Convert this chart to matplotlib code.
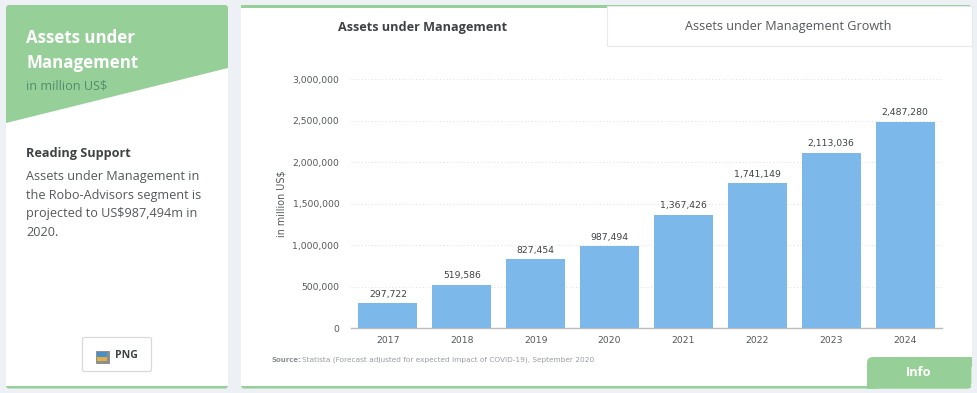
import matplotlib
matplotlib.use("Agg")
import matplotlib.pyplot as plt
from matplotlib.patches import FancyBboxPatch, Polygon, Rectangle
from matplotlib.ticker import FuncFormatter

years = ["2017", "2018", "2019", "2020", "2021", "2022", "2023", "2024"]
assets = [297722, 519586, 827454, 987494, 1367426, 1741149, 2113036, 2487280]
y_ticks = [0, 500000, 1000000, 1500000, 2000000, 2500000, 3000000]
tab_active = "Assets under Management"
tab_other = "Assets under Management Growth"
panel_title = ["Assets under", "Management"]
panel_unit = "in million US$"
support_head = "Reading Support"
support_lines = ["Assets under Management in", "the Robo-Advisors segment is",
                 "projected to US$987,494m in", "2020."]
source_head = "Source:"
source_text = "Statista (Forecast adjusted for expected impact of COVID-19), September 2020"

W, H = 977, 393
GREEN = "#97cf98"
BLUE = "#7cb9ea"
DARK = "#3f4245"
TXT = "#55585b"
fig = plt.figure(figsize=(W / 100, H / 100), dpi=100, facecolor="#edf0f5")
bg = fig.add_axes([0, 0, 1, 1])
bg.set_xlim(0, W)
bg.set_ylim(H, 0)
bg.axis("off")


def card(x0, y0, x1, y1):
    bg.add_patch(FancyBboxPatch((x0, y0), x1 - x0, y1 - y0, boxstyle="round,pad=0,rounding_size=3",
                                fc=GREEN, ec="none", zorder=1))
    bg.add_patch(Rectangle((x0, y0 + 3), x1 - x0, y1 - y0 - 5.5, fc="white", ec="none", zorder=2))


# left card
card(6, 5, 228, 388.5)
bg.add_patch(Polygon([(6, 8), (228, 8), (228, 68), (6, 123)], closed=True, fc=GREEN, ec="none", zorder=3))
OS = "Open Sans"
bg.text(26.5, 38, panel_title[0], color="white", fontsize=12.2, fontweight="bold", family=OS, va="center", zorder=5)
bg.text(26.5, 63, panel_title[1], color="white", fontsize=12.2, fontweight="bold", family=OS, va="center", zorder=5)
bg.text(26.5, 86, panel_unit, color="#4f8f6c", fontsize=9.1, family=OS, va="center", zorder=5)
bg.text(26.5, 153.5, support_head, color=DARK, fontsize=9.1, fontweight="bold", family=OS, va="center", zorder=5)
for i, line in enumerate(support_lines):
    bg.text(26.5, 176.5 + i * 18.6, line, color=TXT, fontsize=9.1, family=OS, va="center", zorder=5)
bg.add_patch(FancyBboxPatch((82.5, 337.5), 69, 34, boxstyle="round,pad=0,rounding_size=2",
                            fc="white", ec="#d9d9d9", lw=0.9, zorder=4))
bg.add_patch(Rectangle((95.5, 350.5), 13, 12, fc="#8a8f94", ec="#777", lw=0.5, zorder=5))
bg.add_patch(Rectangle((97, 352), 10, 5, fc="#4a90c8", ec="none", zorder=6))
bg.add_patch(Rectangle((97, 357), 10, 4, fc="#e0b040", ec="none", zorder=6))
bg.text(115, 356, "PNG", color=DARK, fontsize=7.6, fontweight="bold", family=OS, va="center", zorder=5)

# right card
card(241, 5, 971.5, 388.5)
bg.add_patch(Rectangle((241, 5), 365.5, 3, fc=GREEN, ec="none", zorder=3))
bg.add_patch(Rectangle((606.5, 5.5), 365, 40.5, fc="white", ec="#e8e9ec", lw=0.8, zorder=3))
bg.text(423, 27.5, tab_active, color=DARK, fontsize=9.1, fontweight="bold", family=OS, ha="center", va="center", zorder=5)
bg.text(788.5, 26.5, tab_other, color=TXT, fontsize=9.05, family=OS, ha="center", va="center", zorder=5)

# info tab
bg.add_patch(FancyBboxPatch((867, 357), 104.5, 31.5, boxstyle="round,pad=0,rounding_size=6",
                            fc=GREEN, ec="none", zorder=4))
bg.add_patch(Rectangle((867, 375), 10, 13.5, fc=GREEN, ec="none", zorder=4))
bg.add_patch(Rectangle((960, 357), 11.5, 10, fc=GREEN, ec="none", zorder=4))
bg.text(919, 372, "Info", color="white", fontsize=9.2, fontweight="bold", family=OS, ha="center", va="center", zorder=5)

# source
bg.text(271.5, 359.5, source_head, color="#8d9094", fontsize=5.0, fontweight="bold", va="center", zorder=5)
bg.text(301.5, 359.5, source_text, color="#9a9da0", fontsize=5.27, va="center", zorder=5)

# chart
x0, x1, y0, y1 = 351, 942, 328, 79
ax = fig.add_axes([x0 / W, 1 - y0 / H, (x1 - x0) / W, (y0 - y1) / H], facecolor="none", zorder=3)
pos = list(range(len(years)))
ax.bar(pos, assets, width=0.8, color=BLUE, zorder=3)
ax.set_xlim(-0.5, 7.5)
ax.set_ylim(0, 3000000)
ax.set_xticks(pos, years)
ax.set_yticks(y_ticks)
ax.yaxis.set_major_formatter(FuncFormatter(lambda v, _: f"{int(v):,}"))
ax.tick_params(axis="both", length=0, labelsize=6.7, labelcolor=TXT)
ax.tick_params(axis="x", pad=6)
ax.tick_params(axis="y", pad=8.4)
ax.grid(axis="y", color="#dcdfe2", lw=0.7, ls=(0, (1, 2.5)), zorder=0)
ax.set_axisbelow(True)
for s in ["top", "right", "left"]:
    ax.spines[s].set_visible(False)
ax.spines["bottom"].set_color("#bcbcbc")
ax.spines["bottom"].set_linewidth(1.0)
ax.set_ylabel("in million US$", fontsize=6.9, color=TXT, labelpad=4)
for p, v in zip(pos, assets):
    ax.annotate(f"{v:,}", (p, v), xytext=(0, 3.2), textcoords="offset points", ha="center", va="bottom",
                fontsize=6.7, color=DARK, zorder=4)

fig.savefig("out.png", dpi=100, facecolor=fig.get_facecolor())
